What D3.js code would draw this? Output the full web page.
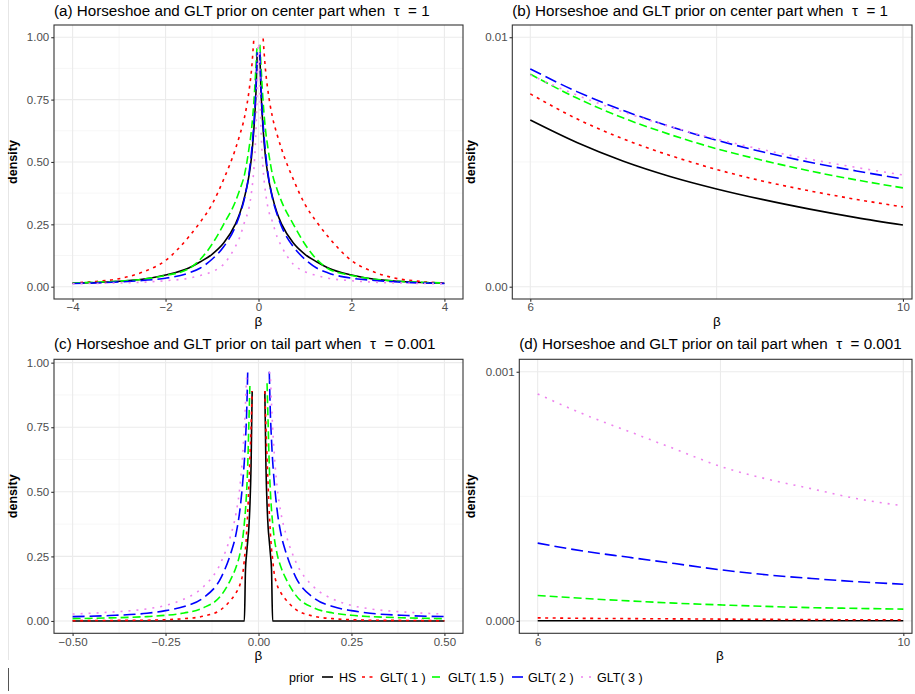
<!DOCTYPE html>
<html><head><meta charset="utf-8">
<script src="https://cdn.jsdelivr.net/npm/d3@7"></script>
<style>body{margin:0;background:#fff}text{font-family:"Liberation Sans",Arial,Helvetica,sans-serif;white-space:pre}</style>
</head><body>
<svg id="chart" width="915" height="694"></svg>
<script>
// ---------- data ----------
const priors = ["HS", "GLT( 1 )", "GLT( 1.5 )", "GLT( 2 )", "GLT( 3 )"];
const colors = ["#000000", "#FF0000", "#00FF00", "#0000FF", "#EE82EE"];
const dashes = [null, "3,4.5", "8,4", "12,5", "2,6"];

// panel (a): center part, tau = 1
const xA = [-4,-3.5,-3,-2.5,-2,-1.5,-1.25,-1,-0.75,-0.5,-0.4,-0.3,-0.2,-0.15,-0.1,-0.07,-0.05,-0.03,-0.02,-0.01,0,
            0.01,0.02,0.03,0.05,0.07,0.1,0.15,0.2,0.3,0.4,0.5,0.75,1,1.25,1.5,2,2.5,3,3.5,4];
const aHS   = [0.014,0.017,0.022,0.03,0.047,0.075,0.1,0.13,0.175,0.25,0.295,0.36,0.45,0.52,0.63,0.72,0.8,0.93,null,null,null,
               null,null,0.93,0.8,0.72,0.63,0.52,0.45,0.36,0.295,0.25,0.175,0.13,0.1,0.075,0.047,0.03,0.022,0.017,0.014];
const aGLT1 = [0.015,0.021,0.032,0.058,0.105,0.2,0.26,0.33,0.43,0.55,0.61,0.68,0.79,0.87,0.995,null,null,null,null,null,null,
               null,null,null,null,null,0.995,0.87,0.79,0.68,0.61,0.55,0.43,0.33,0.26,0.2,0.105,0.058,0.032,0.021,0.015];
const aGLT15= [0.015,0.018,0.022,0.03,0.045,0.072,0.11,0.17,0.25,0.34,0.39,0.45,0.56,0.63,0.74,0.83,0.9,0.97,null,null,null,
               null,null,0.97,0.9,0.83,0.74,0.63,0.56,0.45,0.39,0.34,0.25,0.17,0.11,0.072,0.045,0.03,0.022,0.018,0.015];
const aGLT2 = [0.013,0.015,0.019,0.025,0.034,0.055,0.075,0.11,0.16,0.24,0.29,0.355,0.46,0.54,0.65,0.74,0.82,0.94,null,null,null,
               null,null,0.94,0.82,0.74,0.65,0.54,0.46,0.355,0.29,0.24,0.16,0.11,0.075,0.055,0.034,0.025,0.019,0.015,0.013];
const aGLT3 = [0.012,0.013,0.015,0.018,0.024,0.034,0.045,0.06,0.09,0.16,0.2,0.26,0.32,0.38,0.47,0.56,0.65,0.8,0.9,0.97,null,
               0.97,0.9,0.8,0.65,0.56,0.47,0.38,0.32,0.26,0.2,0.16,0.09,0.06,0.045,0.034,0.024,0.018,0.015,0.013,0.012];

// panels (b) and (d): beta from 6 to 10
const xB = [6,6.5,7,7.5,8,8.5,9,9.5,10];
const bHS   = [0.00668,0.00578,0.00503,0.00442,0.00392,0.00349,0.00311,0.00277,0.00247];
const bGLT1 = [0.00773,0.00673,0.00592,0.00526,0.0047,0.00423,0.00384,0.0035,0.0032];
const bGLT15= [0.00852,0.00756,0.00676,0.0061,0.00553,0.00506,0.00464,0.00428,0.00396];
const bGLT2 = [0.00873,0.00782,0.00706,0.00642,0.00587,0.0054,0.00499,0.00464,0.00432];
const bGLT3 = [0.00849,0.00768,0.007,0.00642,0.00592,0.00549,0.00511,0.00478,0.00448];

const dHS   = [0.0000005,0.0000004,0.0000004,0.0000003,0.0000003,0.0000003,0.0000002,0.0000002,0.0000002];
const dGLT1 = [0.000012,0.000010,0.000009,0.000008,0.000007,0.000006,0.000005,0.0000045,0.000004];
const dGLT15= [0.000102,0.00009,0.00008,0.000071,0.000064,0.000058,0.000053,0.00005,0.000047];
const dGLT2 = [0.000312,0.00028,0.000255,0.00023,0.000205,0.000185,0.00017,0.000157,0.000147];
const dGLT3 = [0.000911,0.00083,0.00076,0.00069,0.00062,0.00057,0.00053,0.00049,0.000462];

// panel (c): tail part, tau = 0.001
const xC = [-0.5,-0.4,-0.3,-0.25,-0.2,-0.15,-0.1,-0.075,-0.06,-0.05,-0.04,-0.038,-0.035,-0.032,-0.029,-0.026,-0.023,-0.02,-0.017,0,
            0.017,0.02,0.023,0.026,0.029,0.032,0.035,0.038,0.04,0.05,0.06,0.075,0.1,0.15,0.2,0.25,0.3,0.4,0.5];
const cHS   = [0,0,0,0,0,0,0,0,0,0,0,0,0.2,0.26,0.31,0.36,0.45,0.6,0.89,null,
               0.89,0.6,0.45,0.36,0.31,0.26,0.2,0,0,0,0,0,0,0,0,0,0,0,0];
const cGLT1 = [0.001,0.002,0.003,0.005,0.009,0.018,0.045,0.08,0.11,0.14,0.21,0.24,0.28,0.34,0.42,0.52,0.63,0.75,0.89,null,
               0.89,0.75,0.63,0.52,0.42,0.34,0.28,0.24,0.21,0.14,0.11,0.08,0.045,0.018,0.009,0.005,0.003,0.002,0.001];
const cGLT15= [0.009,0.012,0.017,0.022,0.031,0.05,0.1,0.16,0.21,0.26,0.35,0.38,0.43,0.5,0.6,0.76,0.92,null,null,null,
               null,null,0.92,0.76,0.6,0.5,0.43,0.38,0.35,0.26,0.21,0.16,0.1,0.05,0.031,0.022,0.017,0.012,0.009];
const cGLT2 = [0.017,0.021,0.03,0.04,0.056,0.088,0.17,0.26,0.34,0.43,0.58,0.62,0.7,0.8,0.965,null,null,null,null,null,
               null,null,null,null,0.965,0.8,0.7,0.62,0.58,0.43,0.34,0.26,0.17,0.088,0.056,0.04,0.03,0.021,0.017];
const cGLT3 = [0.027,0.034,0.047,0.06,0.085,0.13,0.23,0.33,0.42,0.52,0.7,0.75,0.84,0.94,0.965,null,null,null,null,null,
               null,null,null,null,0.965,0.94,0.84,0.75,0.7,0.52,0.42,0.33,0.23,0.13,0.085,0.06,0.047,0.034,0.027];

const ticksAC_y = [0, 0.25, 0.5, 0.75, 1];
const ticksA_x = [-4, -2, 0, 2, 4];
const ticksC_x = [-0.5, -0.25, 0, 0.25, 0.5];
const ticksB_y = [0, 0.01];
const ticksD_y = [0, 0.001];
const ticksBD_x = [6, 10];

// ---------- drawing ----------
const svg = d3.select("#chart");
svg.append("rect").attr("width", 915).attr("height", 694).attr("fill", "#fff");
// faint left edge marks seen in the reference
svg.append("line").attr("x1", 8.5).attr("x2", 8.5).attr("y1", 0).attr("y2", 660).attr("stroke", "#e6e6e6").attr("stroke-width", 1);
svg.append("line").attr("x1", 8.5).attr("x2", 8.5).attr("y1", 668).attr("y2", 691).attr("stroke", "#555").attr("stroke-width", 1);

const minus = s => s.replace("-", "\u2212");
let clipId = 0;

function panel(o) {
  const x = d3.scaleLinear().domain(o.xdom).range([o.left, o.right]);
  const y = d3.scaleLinear().domain(o.ydom).range([o.bottom, o.top]);
  const g = svg.append("g");
  const id = "clip" + (clipId++);
  g.append("clipPath").attr("id", id).append("rect")
    .attr("x", o.left).attr("y", o.top).attr("width", o.right - o.left).attr("height", o.bottom - o.top);
  // grids
  const grid = g.append("g");
  o.xminor.forEach(v => grid.append("line").attr("x1", x(v)).attr("x2", x(v)).attr("y1", o.top).attr("y2", o.bottom)
    .attr("stroke", "#f0f0f0").attr("stroke-width", 0.6));
  o.yminor.forEach(v => grid.append("line").attr("y1", y(v)).attr("y2", y(v)).attr("x1", o.left).attr("x2", o.right)
    .attr("stroke", "#f0f0f0").attr("stroke-width", 0.6));
  o.xgrid.forEach(v => grid.append("line").attr("x1", x(v)).attr("x2", x(v)).attr("y1", o.top).attr("y2", o.bottom)
    .attr("stroke", "#ebebeb").attr("stroke-width", 1.1));
  o.yticks.forEach(v => grid.append("line").attr("y1", y(v)).attr("y2", y(v)).attr("x1", o.left).attr("x2", o.right)
    .attr("stroke", "#ebebeb").attr("stroke-width", 1.1));
  // lines
  const lines = g.append("g").attr("clip-path", `url(#${id})`);
  const line = d3.line().defined(d => d[1] !== null).x(d => x(d[0])).y(d => y(d[1])).curve(o.curve || d3.curveLinear);
  o.series.forEach((s, i) => {
    const pts = o.xs.map((xv, k) => [xv, s[k]]);
    lines.append("path").attr("d", line(pts)).attr("fill", "none")
      .attr("stroke", colors[i]).attr("stroke-width", 1.6)
      .attr("stroke-dasharray", dashes[i]).attr("stroke-linejoin", "round");
  });
  // border
  g.append("rect").attr("x", o.left).attr("y", o.top).attr("width", o.right - o.left).attr("height", o.bottom - o.top)
    .attr("fill", "none").attr("stroke", "#333").attr("stroke-width", 1.1);
  // axes
  const ax = g.append("g").attr("transform", `translate(0,${o.bottom})`)
    .call(d3.axisBottom(x).tickValues(o.xticks).tickFormat(o.xfmt).tickSizeInner(2.75).tickSizeOuter(0).tickPadding(1.5));
  const ay = g.append("g").attr("transform", `translate(${o.left},0)`)
    .call(d3.axisLeft(y).tickValues(o.yticks).tickFormat(o.yfmt).tickSizeInner(2.75).tickSizeOuter(0).tickPadding(2));
  [ax, ay].forEach(a => {
    a.select(".domain").remove();
    a.selectAll("line").attr("stroke", "#333").attr("stroke-width", 1.1);
    a.selectAll("text").attr("fill", "#4d4d4d").attr("font-size", 11.5)
      .style("font-family", '"Liberation Sans",Arial,sans-serif');
  });
  // titles
  g.append("text").attr("x", o.left).attr("y", o.titleY).attr("font-size", 15.2).attr("fill", "#000").text(o.title);
  g.append("text").attr("transform", `translate(${o.ylabX},${(o.top + o.bottom) / 2}) rotate(-90)`)
    .attr("text-anchor", "middle").attr("font-size", 12.5).attr("font-weight", "bold").attr("fill", "#000").text("density");
  g.append("text").attr("x", o.betaX).attr("y", o.bottom + 27)
    .attr("text-anchor", "middle").attr("font-size", 13.5).attr("fill", "#000").text("\u03b2");
}

const fmt2 = d => minus(d3.format(".2f")(d));

panel({
  left: 54, right: 463, top: 25, bottom: 299, betaX: 258.5,
  xdom: [-4.4, 4.4], ydom: [-0.0493, 1.049], curve: d3.curveMonotoneX,
  xs: xA, series: [aHS, aGLT1, aGLT15, aGLT2, aGLT3],
  xticks: ticksA_x, xgrid: ticksA_x, xminor: [-3, -1, 1, 3], xfmt: d => minus(String(d)),
  yticks: ticksAC_y, yminor: [0.125, 0.375, 0.625, 0.875], yfmt: fmt2,
  title: "(a) Horseshoe and GLT prior on center part when  \u03c4  = 1", titleY: 16, ylabX: 17
});
panel({
  left: 512.3, right: 912, top: 25, bottom: 299, betaX: 717,
  xdom: [5.807, 10.097], ydom: [-0.000493, 0.01049], curve: d3.curveMonotoneX,
  xs: xB, series: [bHS, bGLT1, bGLT15, bGLT2, bGLT3],
  xticks: ticksBD_x, xgrid: [6, 8, 10], xminor: [], xfmt: d => String(d),
  yticks: ticksB_y, yminor: [0.005], yfmt: d => d3.format(".2f")(d),
  title: "(b) Horseshoe and GLT prior on center part when  \u03c4  = 1", titleY: 16, ylabX: 475
});
panel({
  left: 54, right: 463, top: 359.3, bottom: 633.3, betaX: 258.5,
  xdom: [-0.55, 0.55], ydom: [-0.0477, 1.013], curve: d3.curveMonotoneX,
  xs: xC, series: [cHS, cGLT1, cGLT15, cGLT2, cGLT3],
  xticks: ticksC_x, xgrid: ticksC_x, xminor: [-0.375, -0.125, 0.125, 0.375], xfmt: fmt2,
  yticks: ticksAC_y, yminor: [0.125, 0.375, 0.625, 0.875], yfmt: fmt2,
  title: "(c) Horseshoe and GLT prior on tail part when  \u03c4  = 0.001", titleY: 349, ylabX: 17
});
panel({
  left: 519.3, right: 912, top: 359.3, bottom: 633.3, betaX: 720,
  xdom: [5.799, 10.095], ydom: [-0.00005, 0.00105], curve: d3.curveMonotoneX,
  xs: xB, series: [dHS, dGLT1, dGLT15, dGLT2, dGLT3],
  xticks: ticksBD_x, xgrid: [6, 8, 10], xminor: [], xfmt: d => String(d),
  yticks: ticksD_y, yminor: [0.0005], yfmt: d => d3.format(".3f")(d),
  title: "(d) Horseshoe and GLT prior on tail part when  \u03c4  = 0.001", titleY: 349, ylabX: 475
});

// legend
const leg = svg.append("g").attr("transform", "translate(0,677)");
leg.append("text").attr("x", 289).attr("y", 4.5).attr("font-size", 12.5).attr("fill", "#000").text("prior");
const keyX = [322, 362, 432, 512, 581];
const labX = [339, 380, 448, 528, 597];
priors.forEach((p, i) => {
  leg.append("line").attr("x1", keyX[i]).attr("x2", keyX[i] + 11).attr("y1", 0).attr("y2", 0)
    .attr("stroke", colors[i]).attr("stroke-width", 1.6).attr("stroke-dasharray", dashes[i]);
  leg.append("text").attr("x", labX[i]).attr("y", 4.5).attr("font-size", 12.5).attr("fill", "#000").text(p);
});
</script>
</body></html>
